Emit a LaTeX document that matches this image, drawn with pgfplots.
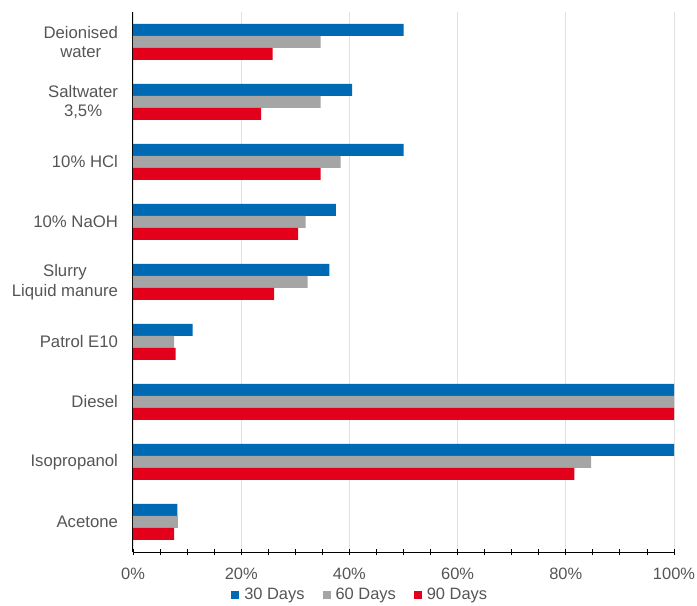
\documentclass[border=0pt]{standalone}
\usepackage{pgfplots}
\pgfplotsset{compat=1.18}
\usepackage{fontspec}
\setmainfont{Liberation Sans}
\definecolor{cblue}{HTML}{0069B4}
\definecolor{cgray}{HTML}{A5A5A5}
\definecolor{cred}{HTML}{E2001A}
\definecolor{txt}{HTML}{555555}
\begin{document}
\begin{tikzpicture}
\path[use as bounding box] (-133bp,-54bp) rectangle (564bp,552bp);
\begin{axis}[
  at={(0,0)}, anchor=south west,
  scale only axis, width=541bp, height=540bp,
  xbar=0pt, bar width=12bp,
  xmin=0, xmax=100, ymin=-0.5, ymax=8.5,
  ytick={0,...,8},
  yticklabels={Acetone,Isopropanol,Diesel,Patrol E10,{Slurry\\Liquid manure},10\% NaOH,10\% HCl,{Saltwater\\3,5\%},{Deionised\\water}},
  yticklabel style={align=center, font=\fontsize{16.8}{20}\selectfont, text=txt, xshift=-9bp},
  xtick={0,20,...,100},
  xticklabels={0\%,20\%,40\%,60\%,80\%,100\%},
  minor xtick={5,10,15,25,30,35,45,50,55,65,70,75,85,90,95},
  xticklabel style={font=\fontsize{16.5}{18}\selectfont, text=txt, yshift=-10.5bp},
  axis x line=bottom, axis y line=left,
  axis line style={-, black, line width=1bp},
  tick align=center, major tick length=5bp, minor tick length=5bp,
  every tick/.style={black, line width=0.9bp},
  ytick style={draw=none},
  xmajorgrids, major x grid style={black!12, line width=0.9bp},
  legend style={at={(0.42,0)}, anchor=center, yshift=-43bp, draw=none, fill=none,
    legend columns=-1, font=\fontsize{16.5}{18}\selectfont, text=txt,
    /tikz/every odd column/.append style={column sep=3bp},
    /tikz/every even column/.append style={column sep=16bp},
    inner sep=0pt},
  legend image code/.code={\fill[#1] (0bp,-4bp) rectangle (8bp,4bp);},
]
\addplot[fill=cblue, draw=none, bar shift=12bp] coordinates {
 (50,8) (40.5,7) (50,6) (37.5,5) (36.3,4) (11,3) (100,2) (100,1) (8.2,0)};
\addplot[fill=cgray, draw=none, bar shift=0bp] coordinates {
 (34.7,8) (34.7,7) (38.4,6) (31.9,5) (32.3,4) (7.6,3) (100,2) (84.7,1) (8.3,0)};
\addplot[fill=cred, draw=none, bar shift=-12bp] coordinates {
 (25.8,8) (23.7,7) (34.7,6) (30.5,5) (26.1,4) (7.9,3) (100,2) (81.6,1) (7.6,0)};
\legend{30 Days,60 Days,90 Days}
\end{axis}
\end{tikzpicture}
\end{document}
